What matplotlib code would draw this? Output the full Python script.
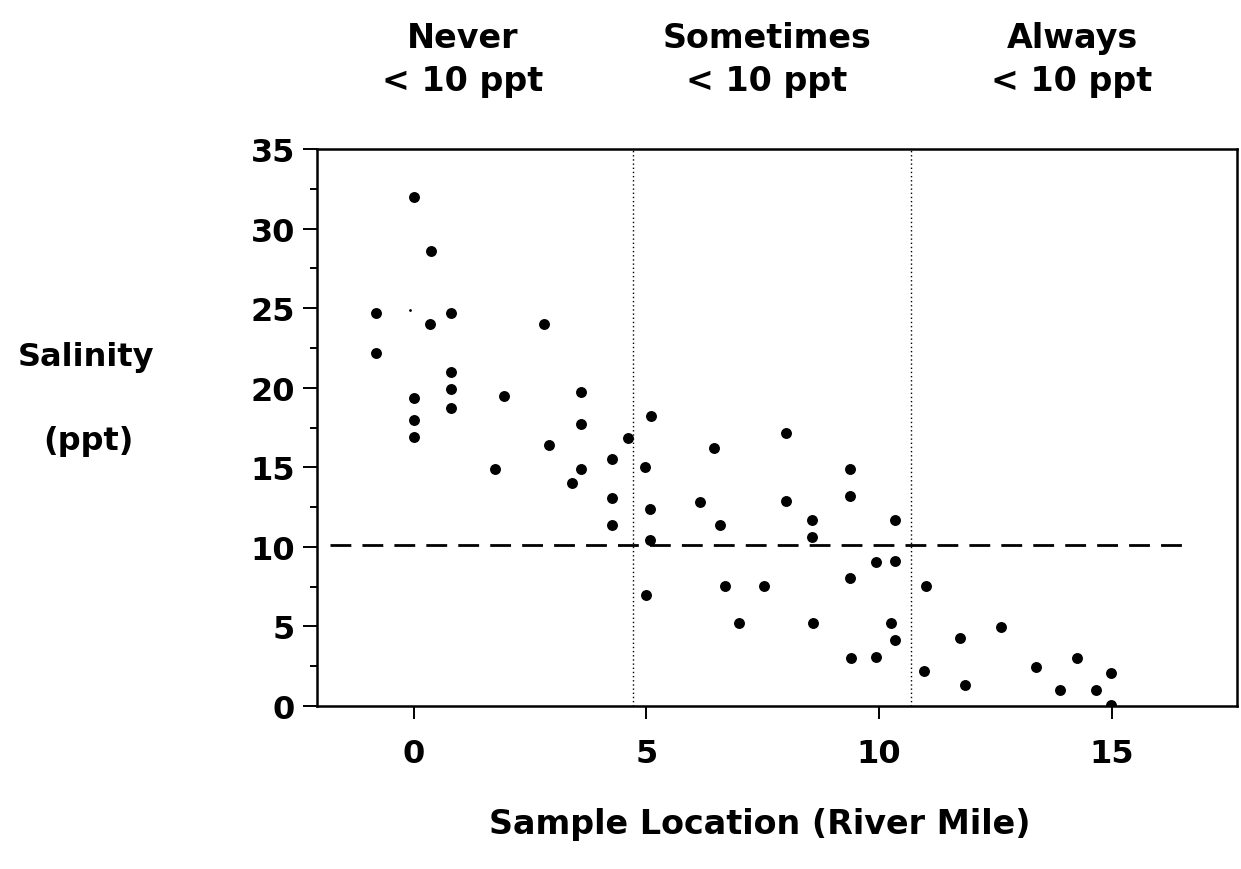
import matplotlib
matplotlib.use("Agg")
import matplotlib.pyplot as plt
from matplotlib.ticker import MultipleLocator

plt.rcParams['font.family'] = ['DejaVu Sans']
plt.rcParams['font.weight'] = 'bold'

# Data: river mile vs salinity (ppt)
river_mile = [0.0, 0.38, -0.82, 0.81, 0.34, 2.80, -0.82, 0.81, 0.81, 0.0,
              1.94, 3.60, 0.79, 0.0, 3.59, 0.0, 4.61, 5.10, 2.90, 1.75,
              3.59, 4.27, 3.41, 4.96, 4.27, 5.08, 4.26, 5.08, 4.99, 7.99,
              6.45, 9.37, 6.15, 7.99, 9.37, 6.58, 8.55, 10.34, 8.55, 9.93,
              10.34, 9.37, 6.68, 7.52, 11.0, 6.98, 8.58, 10.26, 10.34, 9.39,
              9.93, 10.97, 11.74, 11.85, 12.62, 13.37, 13.89, 14.26, 14.66, 14.99,
              14.99]
salinity = [32.0, 28.6, 24.7, 24.7, 24.0, 24.0, 22.2, 21.0, 19.9, 19.35,
            19.45, 19.7, 18.7, 18.0, 17.7, 16.9, 16.85, 18.2, 16.4, 14.9,
            14.9, 15.5, 14.0, 15.0, 13.1, 12.4, 11.4, 10.45, 7.0, 17.15,
            16.2, 14.9, 12.8, 12.9, 13.2, 11.4, 11.7, 11.7, 10.6, 9.04,
            9.1, 8.05, 7.57, 7.57, 7.57, 5.2, 5.22, 5.22, 4.17, 3.0,
            3.06, 2.18, 4.26, 1.32, 4.95, 2.45, 1.03, 3.02, 1.03, 2.08,
            0.06]
faint_mile = [-0.09]
faint_salinity = [24.9]

threshold = 10.1
zone_bounds = [4.70, 10.68]
zone_titles = ["Never\n< 10 ppt", "Sometimes\n< 10 ppt", "Always\n< 10 ppt"]
x_ticks = [0, 5, 10, 15]
y_ticks = [0, 5, 10, 15, 20, 25, 30, 35]

W, H = 1241, 870
fig = plt.figure(figsize=(W / 100, H / 100), dpi=100)
ax = fig.add_axes([317 / W, 1 - 707 / H, (1237 - 317) / W, (707 - 150) / H])

ax.scatter(river_mile, salinity, s=62, color='black', zorder=3, linewidths=0)
ax.scatter(faint_mile, faint_salinity, s=4, color='black', zorder=3, linewidths=0)

ax.plot([-1.8, 16.68], [threshold, threshold], color='black', lw=2.0,
        linestyle=(0, (7.5, 4)))
for xb in zone_bounds:
    ax.axvline(xb, color='black', lw=1.0, linestyle=(0, (1, 2)))

ax.set_xlim(-2.08, 17.69)
ax.set_ylim(0, 35)
ax.set_xticks(x_ticks)
ax.set_yticks(y_ticks)
ax.yaxis.set_minor_locator(MultipleLocator(2.5))
ax.tick_params(axis='y', which='major', length=10, width=1.4, direction='out',
               labelsize=23, pad=6)
ax.tick_params(axis='y', which='minor', length=5, width=1.4, direction='out')
ax.tick_params(axis='x', which='major', length=9, width=1.4, direction='out',
               labelsize=23, pad=14)
for lab in ax.get_xticklabels() + ax.get_yticklabels():
    lab.set_fontweight('bold')
for sp in ax.spines.values():
    sp.set_linewidth(1.8)

# Zone headers
header_x = [463, 767, 1072]
for t, hx in zip(zone_titles, header_x):
    fig.text(hx / W, 1 - 60 / H, t, ha='center', va='center', fontsize=24,
             fontweight='bold', linespacing=1.35)

fig.text(86 / W, 1 - 358 / H, "Salinity", ha='center', va='center',
         fontsize=23, fontweight='bold')
fig.text(88 / W, 1 - 442 / H, "(ppt)", ha='center', va='center',
         fontsize=23, fontweight='bold')
fig.text(760 / W, 1 - 825 / H, "Sample Location (River Mile)", ha='center',
         va='center', fontsize=24, fontweight='bold')

fig.savefig("out.png", dpi=100, facecolor='white')
